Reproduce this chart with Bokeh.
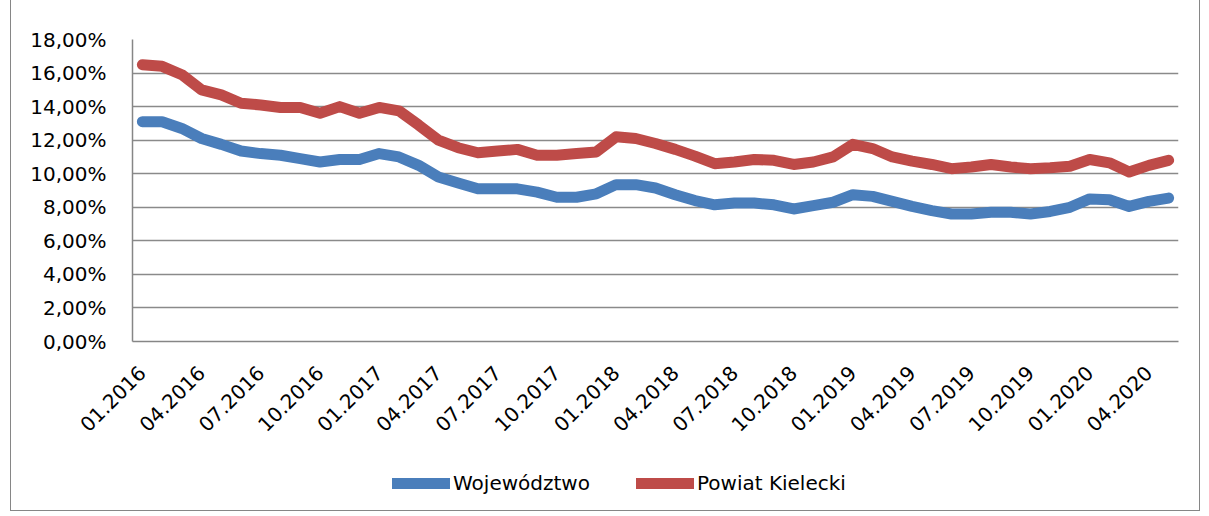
from bokeh.plotting import figure
from bokeh.models import FixedTicker, Legend, LegendItem, Range1d, InlineStyleSheet
from bokeh.layouts import column
from bokeh.embed import file_html
from bokeh.resources import INLINE
import math

# ---- data (unemployment rate, %), monthly 01.2016 - 05.2020 ----
months = ["01.2016", "02.2016", "03.2016", "04.2016", "05.2016", "06.2016",
          "07.2016", "08.2016", "09.2016", "10.2016", "11.2016", "12.2016",
          "01.2017", "02.2017", "03.2017", "04.2017", "05.2017", "06.2017",
          "07.2017", "08.2017", "09.2017", "10.2017", "11.2017", "12.2017",
          "01.2018", "02.2018", "03.2018", "04.2018", "05.2018", "06.2018",
          "07.2018", "08.2018", "09.2018", "10.2018", "11.2018", "12.2018",
          "01.2019", "02.2019", "03.2019", "04.2019", "05.2019", "06.2019",
          "07.2019", "08.2019", "09.2019", "10.2019", "11.2019", "12.2019",
          "01.2020", "02.2020", "03.2020", "04.2020", "05.2020"]

wojewodztwo = [13.1, 13.1, 12.7, 12.1, 11.75, 11.35, 11.2, 11.1, 10.9,
               10.7, 10.85, 10.85, 11.2, 11.0, 10.5, 9.8, 9.45, 9.1,
               9.1, 9.1, 8.9, 8.6, 8.6, 8.8, 9.35, 9.35,
               9.15, 8.75, 8.4, 8.15, 8.25, 8.25, 8.15, 7.9, 8.1,
               8.3, 8.75, 8.65, 8.35, 8.05, 7.8, 7.6, 7.6,
               7.7, 7.7, 7.6, 7.75, 8.0, 8.5, 8.45, 8.05, 8.35, 8.55]

powiat_kielecki = [16.5, 16.4, 15.9, 15.0, 14.7, 14.2, 14.1, 13.95, 13.95,
                   13.6, 14.0, 13.6, 13.95, 13.75, 12.9, 12.0, 11.55, 11.25,
                   11.35, 11.45, 11.1, 11.1, 11.2, 11.3, 12.2, 12.1,
                   11.8, 11.45, 11.05, 10.6, 10.7, 10.85, 10.8, 10.55, 10.7,
                   11.0, 11.75, 11.5, 11.0, 10.75, 10.55, 10.3, 10.4,
                   10.55, 10.4, 10.3, 10.35, 10.45, 10.85, 10.65, 10.1, 10.5, 10.8]

series_names = ["Województwo", "Powiat Kielecki"]
series_colors = ["#4A7EBB", "#BE4B48"]

y_ticks = [0, 2, 4, 6, 8, 10, 12, 14, 16, 18]
y_tick_labels = ["0,00%", "2,00%", "4,00%", "6,00%", "8,00%", "10,00%",
                 "12,00%", "14,00%", "16,00%", "18,00%"]

x_idx = list(range(len(months)))
x_ticks = x_idx[::3]

FONT = "DejaVu Sans"
FSIZE = "20px"
W = 1209

p = figure(width=W, height=450, output_backend="svg", toolbar_location=None,
           x_range=Range1d(-0.5, len(months) - 0.5), y_range=Range1d(0, 18),
           min_border_left=132, min_border_right=31, min_border_top=39,
           min_border_bottom=109, title=None)
p.outline_line_color = None
p.background_fill_color = "white"
p.border_fill_color = "white"

# axes
p.xaxis.ticker = FixedTicker(ticks=x_ticks)
p.xaxis.major_label_overrides = {i: months[i] for i in x_ticks}
p.xaxis.major_label_orientation = math.pi / 4
p.xaxis.major_tick_line_color = None
p.xaxis.minor_tick_line_color = None
p.xaxis.axis_line_color = "#868686"
p.xaxis.axis_line_width = 1.5
p.xaxis.major_label_standoff = 22
p.xaxis.major_label_text_font = FONT
p.xaxis.major_label_text_font_size = FSIZE
p.xaxis.major_label_text_color = "black"

p.yaxis.ticker = FixedTicker(ticks=y_ticks)
p.yaxis.major_label_overrides = {t: l for t, l in zip(y_ticks, y_tick_labels)}
p.yaxis.major_tick_line_color = None
p.yaxis.minor_tick_line_color = None
p.yaxis.axis_line_color = "#868686"
p.yaxis.axis_line_width = 1.5
p.yaxis.major_label_standoff = 20
p.yaxis.major_label_text_font = FONT
p.yaxis.major_label_text_font_size = FSIZE
p.yaxis.major_label_text_color = "black"

p.xgrid.grid_line_color = None
p.ygrid.ticker = FixedTicker(ticks=y_ticks)
p.ygrid.grid_line_color = "#8a8a8a"
p.ygrid.grid_line_width = 1.5

for vals, col in zip([wojewodztwo, powiat_kielecki], series_colors):
    p.line(x_idx, vals, line_width=11, line_color=col,
           line_cap="round", line_join="round")

# ---- legend strip below the chart (its frame is aligned with the chart's frame) ----
leg_h = 66
lf = figure(width=W, height=leg_h, output_backend="svg", toolbar_location=None,
            x_range=Range1d(0, 1), y_range=Range1d(0, 1),
            x_axis_type=None, y_axis_type=None, title=None,
            min_border_left=0, min_border_right=0, min_border_top=0, min_border_bottom=0)
lf.outline_line_color = None
lf.grid.grid_line_color = None
lf.background_fill_color = "white"
lf.border_fill_color = "white"

leg_renderers = []
for col in series_colors:
    leg_renderers.append(lf.line([0], [float("nan")], line_width=11, line_color=col,
                                 line_cap="round", line_join="round"))

legend = Legend(items=[LegendItem(label=n, renderers=[r]) for n, r in zip(series_names, leg_renderers)],
                orientation="horizontal", location=(260, 21),
                glyph_width=58, glyph_height=22, label_standoff=3, spacing=46,
                padding=0, margin=0, border_line_color=None,
                background_fill_alpha=0, label_text_font=FONT,
                label_text_font_size=FSIZE, label_text_color="black")
lf.add_layout(legend)

frame_css = InlineStyleSheet(css="""
:host { position: relative; }
:host::after {
  content: ""; position: absolute; pointer-events: none; z-index: 100;
  left: 10px; right: 9px; top: -4px; bottom: 5px;
  border: 1.5px solid #868686;
}
""")

layout = column(p, lf, spacing=0, stylesheets=[frame_css])

open("out.html", "w").write(file_html(layout, INLINE))
